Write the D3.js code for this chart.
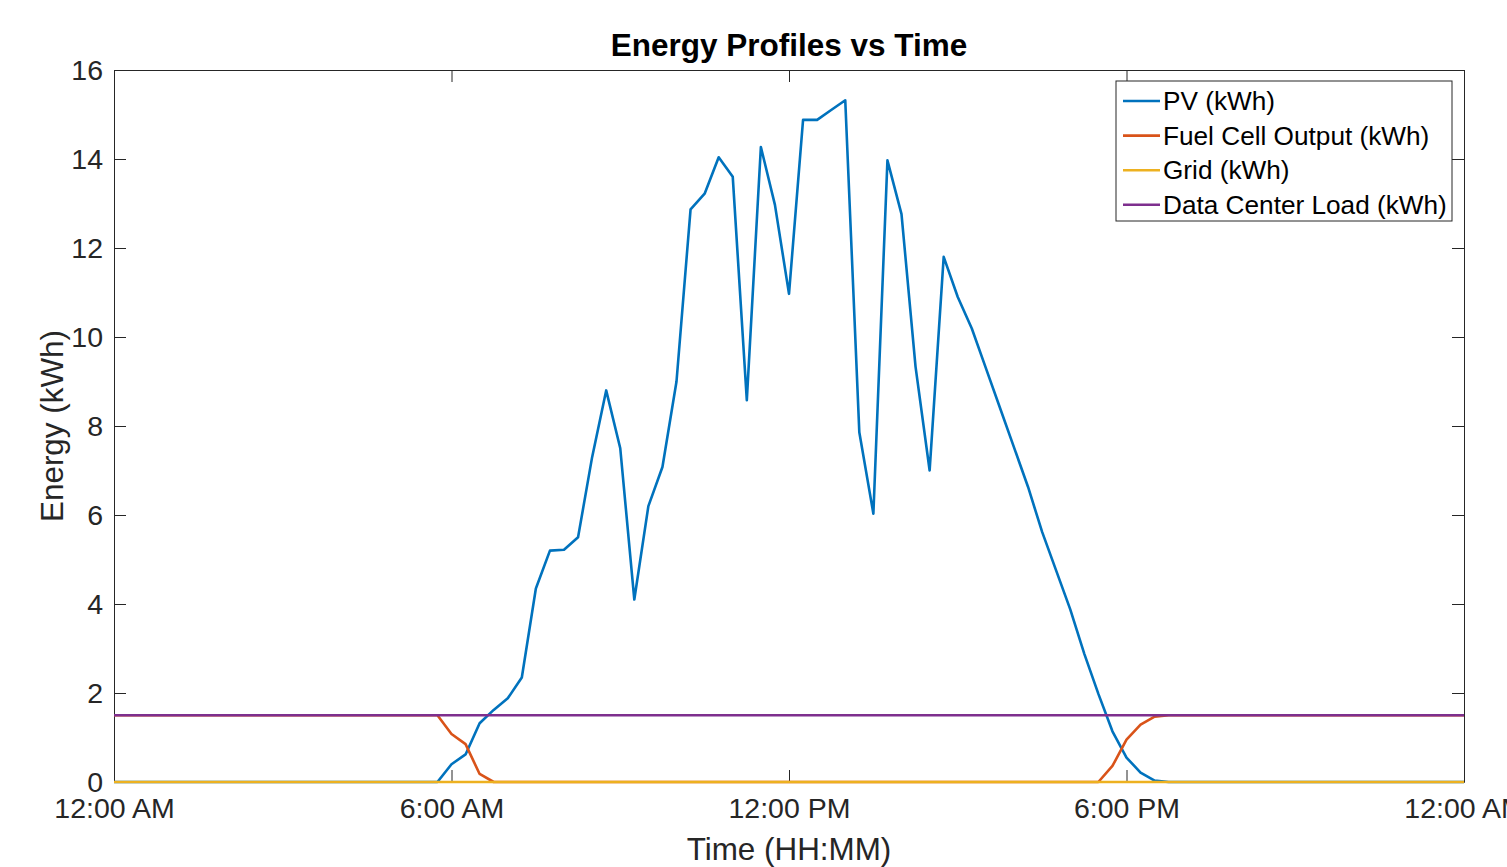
<!DOCTYPE html>
<html>
<head>
<meta charset="utf-8">
<script src="https://cdn.jsdelivr.net/npm/d3@7"></script>
<style>
  body { margin: 0; background: #fff; }
  svg { display: block; font-family: "Liberation Sans", Arial, Helvetica, sans-serif; }
</style>
</head>
<body>
<svg id="chart" width="1507" height="867"></svg>
<script>
// Samples every 15 minutes, 00:00 to 24:00 (97 points)
const seriesNames = ['PV (kWh)', 'Fuel Cell Output (kWh)', 'Grid (kWh)', 'Data Center Load (kWh)'];
const seriesColors = ['#0072BD', '#D95319', '#EDB120', '#7E2F8E'];
const xTickLabels = ['12:00 AM', '6:00 AM', '12:00 PM', '6:00 PM', '12:00 AM'];
const yTicks = [0, 2, 4, 6, 8, 10, 12, 14, 16];

const pv = [
    0, 0, 0, 0, 0, 0, 0, 0, 0, 0, 0, 0,          // 00:00 - 02:45
    0, 0, 0, 0, 0, 0, 0, 0, 0, 0, 0, 0,          // 03:00 - 05:45
    0.40, 0.62, 1.32, 1.62, 1.88, 2.35, 4.35, 5.20, 5.22, 5.50, 7.30, 8.80,      // 06:00 - 08:45
    7.50, 4.10, 6.20, 7.08, 9.00, 12.87, 13.22, 14.04, 13.60, 8.58, 14.27, 12.97, // 09:00 - 11:45
    10.97, 14.88, 14.88, 15.10, 15.32, 7.86, 6.03, 13.97, 12.76, 9.33, 7.00, 11.80, // 12:00 - 14:45
    10.90, 10.19, 9.30, 8.41, 7.52, 6.63, 5.62, 4.75, 3.88, 2.88, 1.98, 1.14,    // 15:00 - 17:45
    0.55, 0.21, 0.03, 0, 0, 0, 0, 0, 0, 0, 0, 0,  // 18:00 - 20:45
    0, 0, 0, 0, 0, 0, 0, 0, 0, 0, 0, 0,          // 21:00 - 23:45
    0                                             // 24:00
];

const fuelCell = [
    1.5, 1.5, 1.5, 1.5, 1.5, 1.5, 1.5, 1.5, 1.5, 1.5, 1.5, 1.5,
    1.5, 1.5, 1.5, 1.5, 1.5, 1.5, 1.5, 1.5, 1.5, 1.5, 1.5, 1.5,
    1.08, 0.85, 0.18, 0, 0, 0, 0, 0, 0, 0, 0, 0,
    0, 0, 0, 0, 0, 0, 0, 0, 0, 0, 0, 0,
    0, 0, 0, 0, 0, 0, 0, 0, 0, 0, 0, 0,
    0, 0, 0, 0, 0, 0, 0, 0, 0, 0, 0, 0.36,
    0.95, 1.29, 1.47, 1.5, 1.5, 1.5, 1.5, 1.5, 1.5, 1.5, 1.5, 1.5,
    1.5, 1.5, 1.5, 1.5, 1.5, 1.5, 1.5, 1.5, 1.5, 1.5, 1.5, 1.5,
    1.5
];

const grid = [
    0, 0, 0, 0, 0, 0, 0, 0, 0, 0, 0, 0,
    0, 0, 0, 0, 0, 0, 0, 0, 0, 0, 0, 0,
    0, 0, 0, 0, 0, 0, 0, 0, 0, 0, 0, 0,
    0, 0, 0, 0, 0, 0, 0, 0, 0, 0, 0, 0,
    0, 0, 0, 0, 0, 0, 0, 0, 0, 0, 0, 0,
    0, 0, 0, 0, 0, 0, 0, 0, 0, 0, 0, 0,
    0, 0, 0, 0, 0, 0, 0, 0, 0, 0, 0, 0,
    0, 0, 0, 0, 0, 0, 0, 0, 0, 0, 0, 0,
    0
];

const load = [
    1.5, 1.5, 1.5, 1.5, 1.5, 1.5, 1.5, 1.5, 1.5, 1.5, 1.5, 1.5,
    1.5, 1.5, 1.5, 1.5, 1.5, 1.5, 1.5, 1.5, 1.5, 1.5, 1.5, 1.5,
    1.5, 1.5, 1.5, 1.5, 1.5, 1.5, 1.5, 1.5, 1.5, 1.5, 1.5, 1.5,
    1.5, 1.5, 1.5, 1.5, 1.5, 1.5, 1.5, 1.5, 1.5, 1.5, 1.5, 1.5,
    1.5, 1.5, 1.5, 1.5, 1.5, 1.5, 1.5, 1.5, 1.5, 1.5, 1.5, 1.5,
    1.5, 1.5, 1.5, 1.5, 1.5, 1.5, 1.5, 1.5, 1.5, 1.5, 1.5, 1.5,
    1.5, 1.5, 1.5, 1.5, 1.5, 1.5, 1.5, 1.5, 1.5, 1.5, 1.5, 1.5,
    1.5, 1.5, 1.5, 1.5, 1.5, 1.5, 1.5, 1.5, 1.5, 1.5, 1.5, 1.5,
    1.5
];

const dayStart = new Date(2024, 0, 1, 0, 0);
const dayEnd = new Date(2024, 0, 2, 0, 0);
// Timestamps for the 15-minute samples (inclusive of midnight at the end)
const times = d3.timeMinute.every(15).range(dayStart, new Date(2024, 0, 2, 0, 1));
const xTickValues = d3.timeHour.every(6).range(dayStart, new Date(2024, 0, 2, 0, 1));

const svg = d3.select('#chart');
const margin = { top: 70, right: 43, bottom: 85, left: 114 };
const width = 1507 - margin.left - margin.right;
const height = 867 - margin.top - margin.bottom;
const axisColor = '#262626';
const lineWidth = 2.6;

svg.append('rect').attr('width', 1507).attr('height', 867).attr('fill', '#fff');

const g = svg.append('g').attr('transform', `translate(${margin.left},${margin.top})`);

const x = d3.scaleTime().domain([dayStart, dayEnd]).range([0, width]);
const y = d3.scaleLinear().domain([0, 16]).range([height, 0]);

// Axes with inward ticks on all four sides (drawn first so the lines sit on top)
const styleAxis = sel => {
    sel.select('.domain').attr('stroke', axisColor).attr('stroke-width', 1);
    sel.selectAll('.tick line').attr('stroke', axisColor).attr('stroke-width', 1);
    sel.selectAll('.tick text').attr('fill', axisColor).attr('font-size', 28.5);
};

g.append('g')
    .attr('transform', `translate(0,${height})`)
    .call(d3.axisBottom(x).tickValues(xTickValues).tickFormat((d, i) => xTickLabels[i])
        .tickSizeInner(-12).tickSizeOuter(0).tickPadding(16))
    .call(styleAxis);

g.append('g')
    .call(d3.axisTop(x).tickValues(xTickValues).tickFormat('')
        .tickSizeInner(-12).tickSizeOuter(0))
    .call(styleAxis);

g.append('g')
    .call(d3.axisLeft(y).tickValues(yTicks).tickSizeInner(-12).tickSizeOuter(0).tickPadding(11))
    .call(styleAxis);

g.append('g')
    .attr('transform', `translate(${width},0)`)
    .call(d3.axisRight(y).tickValues(yTicks).tickFormat('').tickSizeInner(-12).tickSizeOuter(0))
    .call(styleAxis);

svg.selectAll('.tick text').attr('font-family', '"Liberation Sans", Arial, sans-serif');

// Draw lines in plotting order
const allSeries = [pv, fuelCell, grid, load];
const line = d3.line()
    .x((d, i) => x(times[i]))
    .y(d => y(d));

allSeries.forEach((values, k) => {
    g.append('path')
        .datum(values)
        .attr('fill', 'none')
        .attr('stroke', seriesColors[k])
        .attr('stroke-width', lineWidth)
        .attr('stroke-linejoin', 'round')
        .attr('d', line);
});

// Axis labels and title
svg.append('text')
    .attr('x', margin.left + width / 2)
    .attr('y', 860)
    .attr('text-anchor', 'middle')
    .attr('font-size', 31.4)
    .attr('fill', axisColor)
    .text('Time (HH:MM)');

svg.append('text')
    .attr('transform', `translate(63,${margin.top + height / 2}) rotate(-90)`)
    .attr('text-anchor', 'middle')
    .attr('font-size', 31.4)
    .attr('fill', axisColor)
    .text('Energy (kWh)');

svg.append('text')
    .attr('x', margin.left + width / 2)
    .attr('y', 56)
    .attr('text-anchor', 'middle')
    .attr('font-size', 31.5)
    .attr('font-weight', 'bold')
    .attr('fill', '#000')
    .text('Energy Profiles vs Time');

// Legend
const legend = svg.append('g').attr('transform', 'translate(1116,81)');
legend.append('rect')
    .attr('width', 336)
    .attr('height', 140)
    .attr('fill', '#fff')
    .attr('stroke', axisColor)
    .attr('stroke-width', 1);

seriesNames.forEach((name, k) => {
    const row = legend.append('g').attr('transform', `translate(0,${20 + k * 34.6})`);
    row.append('line')
        .attr('x1', 7).attr('x2', 44)
        .attr('y1', 0).attr('y2', 0)
        .attr('stroke', seriesColors[k])
        .attr('stroke-width', lineWidth);
    row.append('text')
        .attr('x', 47)
        .attr('y', 0)
        .attr('dy', '0.35em')
        .attr('font-size', 26.2)
        .attr('fill', '#000')
        .text(name);
});
</script>
</body>
</html>
